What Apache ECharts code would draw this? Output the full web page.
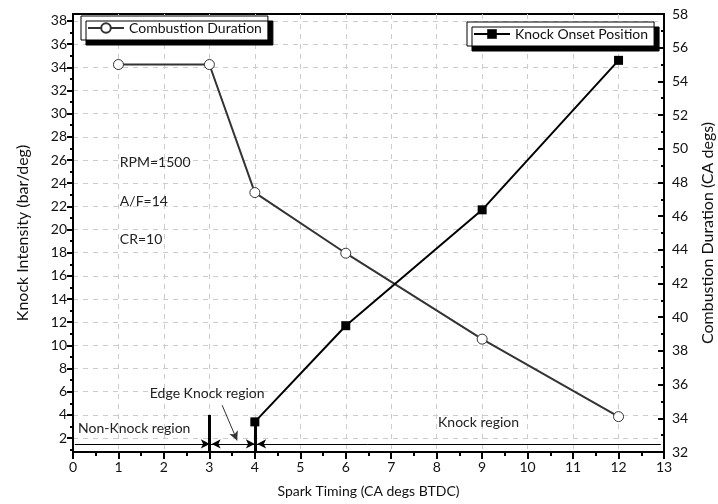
<!DOCTYPE html>
<html lang="en">
<head>
<meta charset="utf-8" />
<script src="https://cdn.jsdelivr.net/npm/echarts@6/dist/echarts.min.js"></script>
<title>Knock vs Spark Timing</title>
<style>
  html, body { margin: 0; padding: 0; background: #fff; }
  #main { width: 718px; height: 504px; }
</style>
</head>
<body>
<div id="main"></div>
<script>
// spark timing (CA degs BTDC)
var durX = [1, 3, 4, 6, 9, 12];
var durY = [55, 55, 47.4, 43.8, 38.7, 34.1];   // Combustion Duration (right axis)
var onsetX = [4, 6, 9, 12];
var onsetY = [3.4, 11.7, 21.7, 34.6];          // Knock Onset Position (left axis)

var leftLabels = [2, 4, 6, 8, 10, 12, 14, 16, 18, 20, 22, 24, 26, 28, 30, 32, 34, 36, 38];
var leftMinor = [1, 3, 5, 7, 9, 11, 13, 15, 17, 19, 21, 23, 25, 27, 29, 31, 33, 35, 37];

// annotation texts (x, left-axis y)
var notes = [
  ['RPM=1500', 1.03, 25.8],
  ['A/F=14', 1.03, 22.45],
  ['CR=10', 1.03, 19.1],
  ['Non-Knock region', 0.11, 2.85],
  ['Edge Knock region', 1.69, 5.87],
  ['Knock region', 8.03, 3.37]
];

var font = 'Lato, "Open Sans", sans-serif';
var chart = echarts.init(document.getElementById('main'));

function seg(a, b, arrow, w, c) {
  return [
    { coord: a, symbol: 'none', lineStyle: { color: c || '#000', width: w || 1, type: 'solid' } },
    { coord: b, symbol: arrow ? 'arrow' : 'none', symbolSize: [7, 9] }
  ];
}

var lines = [
  seg([3, 4.0], [3, 0.8], false, 3),
  seg([4, 3.4], [4, 0.8], false, 3),
  seg([0.04, 1.5], [12.93, 1.5], false, 1),
  seg([2.75, 1.5], [3.01, 1.5], true, 1),
  seg([3.28, 1.5], [3.05, 1.5], true, 1),
  seg([3.76, 1.5], [4.0, 1.5], true, 1),
  seg([4.29, 1.5], [4.05, 1.5], true, 1),
  seg([3.28, 4.84], [3.61, 1.8], true, 1, '#333')
];

var legendBase = {
  itemWidth: 36, itemHeight: 12, itemGap: 4,
  padding: [5, 6, 5, 6],
  backgroundColor: '#fff', borderColor: '#000', borderWidth: 1,
  shadowColor: '#000', shadowBlur: 0, shadowOffsetX: 5, shadowOffsetY: 5,
  textStyle: { fontSize: 14, color: '#111', fontFamily: font }
};

var option = {
  animation: false,
  textStyle: { fontFamily: font },
  grid: {
    left: 73, right: 54, top: 14, bottom: 52,
    outerBoundsMode: 'none', containLabel: false,
    show: true, borderColor: '#000', borderWidth: 2
  },
  legend: [
    Object.assign({ data: ['Combustion Duration'], left: 81, top: 16 }, legendBase),
    Object.assign({ data: ['Knock Onset Position'], left: 467, top: 22 }, legendBase)
  ],
  xAxis: {
    type: 'value', min: 0, max: 13, interval: 1,
    name: 'Spark Timing (CA degs BTDC)', nameLocation: 'middle', nameGap: 32,
    nameTextStyle: { fontSize: 14, color: '#111' },
    axisLine: { lineStyle: { color: '#000', width: 2 } },
    axisTick: { length: 7, lineStyle: { color: '#000', width: 2 } },
    minorTick: { show: true, splitNumber: 2, length: 4, lineStyle: { color: '#000', width: 2 } },
    axisLabel: { fontSize: 14, color: '#111', margin: 8 },
    splitLine: { show: true, lineStyle: { color: '#ccc', type: [5, 5], width: 1 } }
  },
  yAxis: [
    {
      type: 'value', min: 0.8, max: 38.6, position: 'left',
      name: 'Knock Intensity (bar/deg)', nameLocation: 'middle', nameGap: 42,
      nameTextStyle: { fontSize: 16, color: '#111' },
      axisLine: { show: true, lineStyle: { color: '#000', width: 2 } },
      axisTick: { show: true, customValues: leftLabels, length: 6, lineStyle: { color: '#000', width: 2 } },
      axisLabel: { customValues: leftLabels, fontSize: 14, color: '#111', margin: 6 },
      splitLine: { show: true, lineStyle: { color: '#ccc', type: [5, 5], width: 1 } }
    },
    {
      type: 'value', min: 32, max: 58, interval: 2, position: 'right',
      name: 'Combustion Duration (CA degs)', nameLocation: 'middle', nameGap: 36,
      nameTextStyle: { fontSize: 16, color: '#111' },
      axisLine: { show: true, lineStyle: { color: '#000', width: 2 } },
      axisTick: { show: true, inside: true, length: 6, lineStyle: { color: '#000', width: 2 } },
      minorTick: { show: true, splitNumber: 2, length: 3, lineStyle: { color: '#000', width: 2 } },
      axisLabel: { fontSize: 14, color: '#111', margin: 8 },
      splitLine: { show: false }
    },
    {
      type: 'value', min: 0.8, max: 38.6, position: 'left',
      axisLine: { show: false },
      axisTick: { show: true, customValues: leftMinor, length: 3, lineStyle: { color: '#000', width: 2 } },
      axisLabel: { show: false },
      splitLine: { show: false }
    }
  ],
  series: [
    {
      name: 'Combustion Duration', type: 'line', yAxisIndex: 1,
      data: durX.map(function (x, i) { return [x, durY[i]]; }),
      symbol: 'circle', symbolSize: 10,
      itemStyle: { color: '#fff', borderColor: '#333', borderWidth: 1 },
      lineStyle: { color: '#333', width: 2 },
      z: 3
    },
    {
      name: 'Knock Onset Position', type: 'line', yAxisIndex: 0,
      data: onsetX.map(function (x, i) { return [x, onsetY[i]]; }),
      symbol: 'rect', symbolSize: 9,
      itemStyle: { color: '#000' },
      lineStyle: { color: '#000', width: 2 },
      z: 4,
      markLine: { silent: true, symbol: 'none', label: { show: false }, data: lines, z: 2 },
      markPoint: {
        silent: true,
        data: notes.map(function (n) {
          return {
            coord: [n[1], n[2]], symbol: 'circle', symbolSize: 0,
            label: { show: true, formatter: n[0], position: 'right', distance: 0,
                     fontSize: 14, color: '#222', fontFamily: font }
          };
        })
      }
    }
  ]
};

chart.setOption(option);
</script>
</body>
</html>
